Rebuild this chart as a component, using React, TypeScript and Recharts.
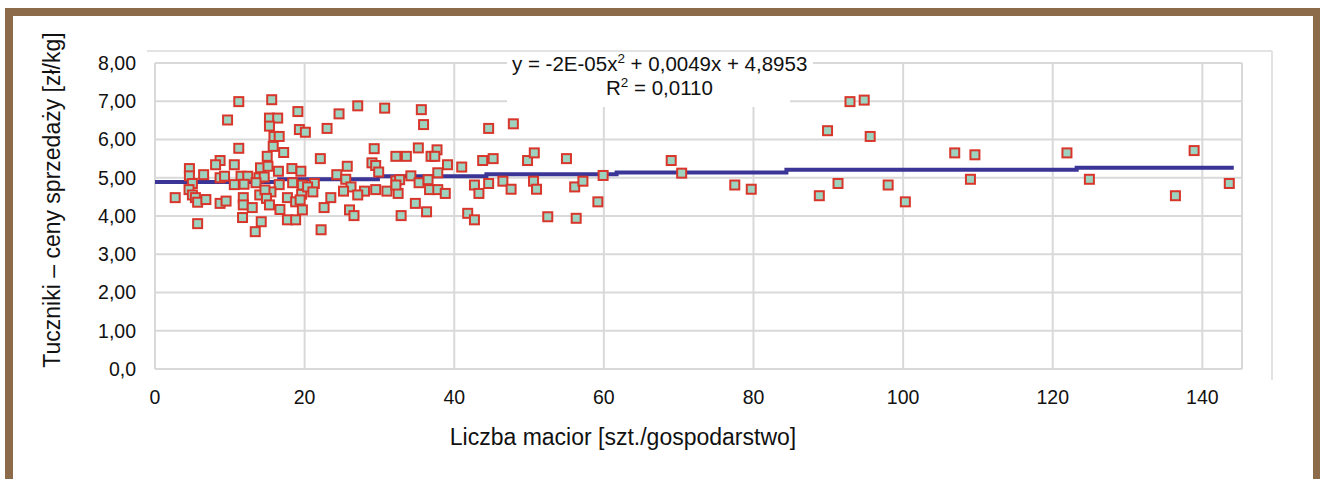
import React from 'react';
import { ScatterChart, Scatter, XAxis, YAxis, CartesianGrid } from 'recharts';

// liczba macior (x) i cena tucznika (y)
const sowsX = [
  9.7, 8.7, 8.1, 4.6, 4.6, 6.5, 8.7, 9.3, 5.0, 4.55, 2.7, 5.0, 5.4, 5.7, 6.8, 8.7, 9.5, 5.7,
  11.2, 15.6, 15.3, 16.4, 19.1, 15.3, 19.3, 15.9, 16.6, 11.2, 15.8, 17.2, 15.0, 10.6, 14.1, 15.1,
  16.5, 18.3, 19.5, 11.5, 12.4, 13.9, 14.6, 16.6, 18.4, 10.6, 11.9, 13.5, 15.5, 14.0, 14.7, 11.8,
  17.7, 19.6, 11.8, 13.0, 14.9, 15.3, 18.8, 16.7, 11.7, 14.2, 17.7, 18.8, 13.4,
  27.1, 24.6, 23.0, 20.1, 29.3, 22.1, 25.7, 29.0, 29.5, 24.3, 25.5, 21.3, 19.7, 20.4, 26.2, 21.1,
  25.2, 28.0, 27.1, 29.5, 23.5, 19.4, 22.6, 19.7, 26.0, 26.6, 22.2,
  30.7, 35.6, 35.9, 35.2, 37.7, 32.2, 33.6, 36.9, 37.4, 39.1, 41.0, 29.9, 37.8, 34.2, 32.2, 32.7,
  35.3, 36.5, 31.0, 32.5, 32.2, 36.7, 37.8, 38.8, 34.8, 36.3, 32.9,
  44.6, 47.9, 43.8, 45.2, 49.8, 50.7, 55.0, 69.0, 70.4, 59.9, 42.7, 43.3, 44.6, 46.5, 47.6, 50.6,
  51.0, 56.1, 57.2, 59.2, 77.5, 79.7, 41.8, 42.7, 52.5, 56.3,
  92.9, 94.8, 89.9, 95.6, 106.9, 109.6, 121.9, 138.9, 88.8, 91.3, 98.0, 100.3, 109.0, 124.9,
  136.4, 143.6,
];
const priceY = [
  6.51, 5.45, 5.34, 5.24, 5.05, 5.08, 5.0, 5.04, 4.85, 4.69, 4.48, 4.55, 4.48, 4.36, 4.43, 4.33, 4.39, 3.8,
  6.99, 7.04, 6.56, 6.56, 6.73, 6.35, 6.26, 6.08, 6.08, 5.77, 5.82, 5.66, 5.56, 5.34, 5.26, 5.3,
  5.17, 5.24, 5.17, 5.04, 5.04, 5.0, 5.02, 4.82, 4.87, 4.82, 4.83, 4.87, 4.63, 4.55, 4.68, 4.48,
  4.48, 4.57, 4.29, 4.22, 4.46, 4.29, 4.37, 4.17, 3.96, 3.85, 3.9, 3.9, 3.59,
  6.88, 6.67, 6.29, 6.19, 5.76, 5.5, 5.3, 5.39, 5.32, 5.08, 4.96, 4.85, 4.81, 4.76, 4.76, 4.63,
  4.65, 4.65, 4.55, 4.69, 4.48, 4.42, 4.22, 4.16, 4.16, 4.01, 3.64,
  6.82, 6.78, 6.39, 5.78, 5.73, 5.56, 5.56, 5.56, 5.56, 5.34, 5.28, 5.15, 5.13, 5.05, 4.92, 4.95,
  4.87, 4.95, 4.65, 4.59, 4.81, 4.69, 4.69, 4.59, 4.33, 4.11, 4.01,
  6.29, 6.41, 5.45, 5.5, 5.45, 5.65, 5.5, 5.45, 5.12, 5.06, 4.81, 4.59, 4.85, 4.91, 4.7, 4.91,
  4.7, 4.76, 4.91, 4.37, 4.81, 4.7, 4.07, 3.9, 3.98, 3.94,
  6.99, 7.03, 6.23, 6.08, 5.65, 5.6, 5.65, 5.71, 4.53, 4.85, 4.81, 4.37, 4.96, 4.96,
  4.53, 4.85,
];

// linia trendu (schodkowa, tak jak na rysunku)
const trendX = [0, 16.6, 16.6, 29.8, 29.8, 44.3, 44.3, 61.7, 61.7, 84.4, 84.4, 123.2, 123.2, 144.2];
const trendY = [4.89, 4.89, 4.96, 4.96, 5.04, 5.04, 5.09, 5.09, 5.14, 5.14, 5.21, 5.21, 5.26, 5.26];

const xTicks = [0, 20, 40, 60, 80, 100, 120, 140];
const yTicks = [0, 1, 2, 3, 4, 5, 6, 7, 8];
const yTickLabels = ['0,0', '1,00', '2,00', '3,00', '4,00', '5,00', '6,00', '7,00', '8,00'];

const points = sowsX.map((x, i) => ({ x, y: priceY[i] }));
const trend = trendX.map((x, i) => ({ x, y: trendY[i] }));

const FONT = '"Liberation Sans", Arial, Helvetica, sans-serif';
const GRID = '#d9d9d9';

const SquareMarker = (props: any) => {
  const { cx, cy } = props;
  if (cx == null || cy == null) return null;
  return <rect x={cx - 4.5} y={cy - 4.5} width={9} height={9} fill="#9dd3bf" stroke="#d8352b" strokeWidth={2} />;
};

export default function App() {
  return (
    <div style={{ position: 'absolute', left: 0, top: 0, width: 1327, height: 479, background: '#fff', fontFamily: FONT }}>
      {/* brązowa ramka */}
      <div style={{ position: 'absolute', left: 5, top: 8, width: 1315, height: 471, borderLeft: '8px solid #8b6b4a', borderTop: '8px solid #8b6b4a', borderRight: '7px solid #8b6b4a', boxSizing: 'border-box' }} />
      <div style={{ position: 'absolute', left: 0, top: 0 }}>
        <ScatterChart width={1327} height={479} margin={{ top: 63, right: 85, bottom: 80, left: 85 }}>
          <CartesianGrid stroke={GRID} strokeWidth={2} />
          <XAxis
            type="number"
            dataKey="x"
            domain={[0, 145.3]}
            ticks={xTicks}
            allowDataOverflow
            height={30}
            tickLine={false}
            tickSize={0}
            tickMargin={21}
            axisLine={{ stroke: GRID, strokeWidth: 2 }}
            tick={{ fill: '#111', fontSize: 19.5, fontFamily: FONT }}
          />
          <YAxis
            type="number"
            dataKey="y"
            domain={[0, 8]}
            ticks={yTicks}
            width={70}
            tickLine={false}
            tickSize={0}
            tickMargin={19}
            axisLine={{ stroke: GRID, strokeWidth: 2 }}
            tickFormatter={(v: number) => yTickLabels[yTicks.indexOf(v)]}
            tick={{ fill: '#111', fontSize: 19.5, fontFamily: FONT }}
          />
          <Scatter
            data={trend}
            line={{ stroke: '#3b3597', strokeWidth: 4 }}
            lineType="joint"
            shape={() => null}
            isAnimationActive={false}
          />
          <Scatter data={points} shape={SquareMarker} isAnimationActive={false} />
        </ScatterChart>
      </div>
      <svg width={1327} height={479} style={{ position: 'absolute', left: 0, top: 0, pointerEvents: 'none' }}>
        <line x1={147} y1={51} x2={1272} y2={51} stroke="#e3e3e3" strokeWidth={2} />
        <line x1={1272} y1={51} x2={1272} y2={380} stroke="#e3e3e3" strokeWidth={2} />
        <rect x={507} y={54} width={283} height={53} fill="#fff" />
        <rect x={507} y={54} width={306} height={20} fill="#fff" />
        <text x={512} y={71} fontSize={20.5} fill="#111" fontFamily={FONT}>
          y = -2E-05x<tspan fontSize={13.5} dy={-8}>2</tspan>
          <tspan dy={8}> + 0,0049x + 4,8953</tspan>
        </text>
        <text x={606} y={95} fontSize={20.5} fill="#111" fontFamily={FONT}>
          R<tspan fontSize={13.5} dy={-8}>2</tspan>
          <tspan dy={8}> = 0,0110</tspan>
        </text>
        <text x={623} y={445} fontSize={23} fill="#111" textAnchor="middle" fontFamily={FONT}>
          Liczba macior [szt./gospodarstwo]
        </text>
        <text x={60} y={200} fontSize={23} fill="#111" textAnchor="middle" fontFamily={FONT} transform="rotate(-90, 60, 200)">
          Tuczniki – ceny sprzedaży [zł/kg]
        </text>
      </svg>
    </div>
  );
}
